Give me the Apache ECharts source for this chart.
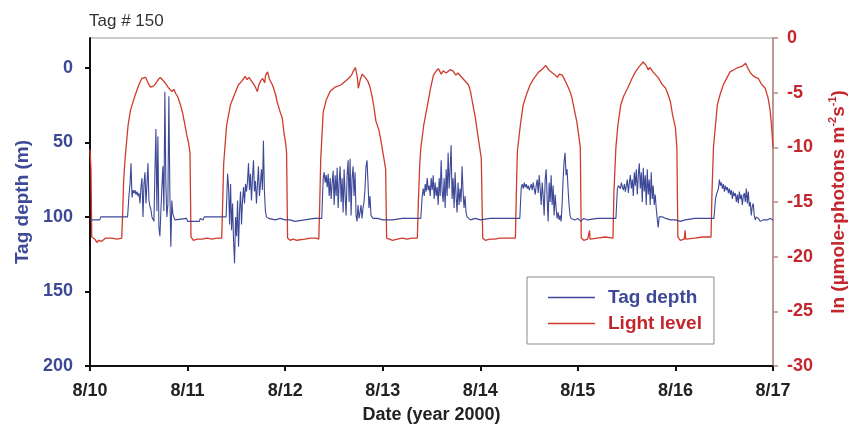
<!DOCTYPE html>
<html>
<head>
<meta charset="utf-8">
<script src="https://cdn.jsdelivr.net/npm/echarts@6/dist/echarts.min.js"></script>
<style>
  html, body { margin: 0; padding: 0; background: #fff; }
  #chart { width: 857px; height: 427px; }
</style>
</head>
<body>
<div id="chart"></div>
<script>
// x = days since 8/10 00:00
var dateLabels = ['8/10', '8/11', '8/12', '8/13', '8/14', '8/15', '8/16', '8/17'];
var depthTicks = [0, 50, 100, 150, 200];

// light level, ln(umole-photons m-2 s-1), [day, value]
var lightLevel = [
  [0, -10.2], [0.01, -12], [0.018, -18.2], [0.05, -18.4], [0.07, -18.7], [0.09, -18.5], [0.12, -18.6], [0.16, -18.3], [0.22, -18.3], [0.28, -18.4], [0.325, -18.3],
  [0.335, -16], [0.345, -13], [0.36, -11], [0.39, -8], [0.415, -6.6], [0.46, -5.3], [0.5, -4.3], [0.53, -3.7], [0.55, -3.8], [0.57, -3.6], [0.6, -4.2], [0.62, -4.5], [0.65, -4.4], [0.67, -4.2], [0.7, -3.8], [0.72, -3.6], [0.74, -3.8], [0.77, -4.1], [0.8, -4.5], [0.82, -4.6], [0.84, -4.9], [0.86, -4.7], [0.88, -5.1], [0.9, -5.4], [0.93, -6.2], [0.95, -6.9], [0.97, -7.8], [0.99, -8.8], [1.01, -9.6], [1.025, -10.5], [1.035, -18.2],
  [1.06, -18.5], [1.1, -18.4], [1.15, -18.4], [1.2, -18.3], [1.25, -18.4], [1.3, -18.3], [1.35, -18.3],
  [1.36, -15], [1.37, -11.5], [1.4, -8], [1.44, -6.1], [1.48, -5.2], [1.52, -4.3], [1.56, -3.9], [1.59, -3.5], [1.61, -3.8], [1.63, -3.6], [1.66, -4.0], [1.69, -4.4], [1.715, -4.9], [1.73, -4.3], [1.75, -3.9], [1.77, -3.7], [1.79, -4.1], [1.8, -3.4], [1.82, -3.1], [1.84, -3.8], [1.87, -4.3], [1.9, -5.1], [1.92, -5.9], [1.95, -6.8], [1.97, -7.3], [1.99, -8.8], [2.005, -9.6], [2.015, -10.5], [2.025, -18.3],
  [2.05, -18.5], [2.08, -18.4], [2.12, -18.5], [2.2, -18.4], [2.26, -18.3], [2.32, -18.3], [2.345, -18.4],
  [2.355, -15], [2.365, -11], [2.39, -6.8], [2.42, -5.7], [2.46, -4.9], [2.51, -4.5], [2.57, -4.3], [2.61, -4.0], [2.65, -3.7], [2.68, -3.4], [2.7, -3.0], [2.72, -2.7], [2.74, -3.6], [2.75, -4.6], [2.77, -3.8], [2.79, -3.3], [2.82, -3.6], [2.85, -4.0], [2.87, -4.5], [2.89, -5.3], [2.91, -6.3], [2.93, -7.6], [2.96, -8.4], [2.98, -9.3], [3.01, -10.9], [3.03, -12], [3.04, -18.3],
  [3.07, -18.4], [3.1, -18.5], [3.15, -18.4], [3.2, -18.3], [3.25, -18.4], [3.3, -18.3], [3.355, -18.3],
  [3.365, -15], [3.38, -11.5], [3.39, -10.1], [3.42, -8], [3.46, -6.1], [3.49, -4.6], [3.52, -3.4], [3.55, -3.0], [3.57, -2.8], [3.6, -3.3], [3.62, -3.0], [3.65, -3.2], [3.69, -2.9], [3.72, -3.0], [3.75, -3.4], [3.77, -3.2], [3.8, -3.5], [3.83, -3.8], [3.85, -3.7], [3.88, -4.3], [3.9, -4.9], [3.92, -5.9], [3.95, -7.3], [3.97, -8.6], [3.99, -9.8], [4.01, -11], [4.025, -18.3],
  [4.05, -18.5], [4.1, -18.4], [4.15, -18.4], [4.2, -18.3], [4.26, -18.3], [4.32, -18.3], [4.36, -18.3],
  [4.37, -14], [4.38, -10.4], [4.41, -8], [4.44, -6.1], [4.48, -5], [4.51, -4.3], [4.55, -3.7], [4.6, -3.1], [4.63, -2.9], [4.67, -2.5], [4.7, -2.9], [4.72, -2.8], [4.74, -3.2], [4.77, -3.4], [4.79, -3.6], [4.81, -3.3], [4.84, -3.4], [4.87, -3.9], [4.89, -4.3], [4.92, -4.9], [4.94, -5.5], [4.96, -6.4], [4.99, -7.7], [5.01, -9], [5.025, -10], [5.035, -18.3],
  [5.06, -18.5], [5.1, -18.4], [5.12, -17.6], [5.125, -18.4], [5.2, -18.3], [5.28, -18.2], [5.36, -18.3],
  [5.37, -14], [5.39, -10], [5.41, -8], [5.44, -6.1], [5.47, -5.3], [5.51, -4.6], [5.55, -3.8], [5.59, -3.1], [5.63, -2.6], [5.65, -2.5], [5.67, -2.2], [5.7, -2.5], [5.72, -2.9], [5.74, -2.7], [5.77, -3.1], [5.8, -3.4], [5.83, -3.7], [5.86, -4.2], [5.9, -4.6], [5.93, -5.3], [5.95, -5.9], [5.97, -7], [6, -8.2], [6.015, -10], [6.025, -18.2],
  [6.05, -18.5], [6.09, -18.4], [6.1, -17.6], [6.105, -18.4], [6.2, -18.3], [6.28, -18.2], [6.365, -18.2],
  [6.375, -14], [6.39, -10], [6.41, -8], [6.43, -6.1], [6.46, -5.1], [6.49, -4.3], [6.53, -3.6], [6.56, -3.1], [6.6, -2.9], [6.64, -2.7], [6.68, -2.6], [6.72, -2.3], [6.75, -2.9], [6.77, -3.2], [6.79, -3.4], [6.82, -3.6], [6.85, -3.7], [6.88, -4.2], [6.92, -4.6], [6.95, -5.5], [6.97, -6.6], [6.985, -8], [7, -10]
];

// tag depth (m) at night, [day, depth]
var depthNight0 = [[0, 102], [0.1, 102], [0.11, 100], [0.2, 100], [0.3, 100], [0.385, 100]];
var depthNight1 = [[0.875, 101], [0.99, 101], [1.0, 103], [1.12, 103], [1.13, 101], [1.16, 102], [1.17, 100], [1.395, 100]];
var depthNight2 = [[1.83, 101], [1.9, 102], [1.95, 101], [2.0, 102], [2.05, 102], [2.1, 103], [2.12, 102], [2.2, 102], [2.3, 101], [2.375, 101]];
var depthNight3 = [[2.9, 101], [2.95, 101], [3.0, 102], [3.02, 103], [3.05, 102], [3.1, 102], [3.2, 101], [3.3, 101], [3.39, 101]];
var depthNight4 = [[3.87, 101], [3.9, 102], [3.95, 101], [4.0, 102], [4.1, 101], [4.2, 101], [4.3, 101], [4.405, 101]];
var depthNight5 = [[4.94, 101], [4.97, 102], [5.0, 101], [5.03, 103], [5.06, 101], [5.1, 102], [5.2, 101], [5.3, 101], [5.39, 101]];
var depthNight6 = [[5.85, 101], [5.87, 100], [5.9, 101], [5.95, 102], [6.0, 102], [6.05, 103], [6.1, 102], [6.2, 101], [6.3, 101], [6.395, 101]];
var depthNight7 = [[6.85, 101], [6.87, 103], [6.9, 102], [6.94, 102], [6.97, 101], [7, 102]];

// tag depth (m) in daytime, logged every sampleStep days from dayStart
var sampleStep = 0.0102;
var dayStart = [0.39, 1.40, 2.38, 3.395, 4.41, 5.395, 6.40];
var depthDay1 = [100, 85, 78, 64, 87, 82, 84, 82, 85, 83, 86, 84, 91, 80, 74, 100, 78, 70, 91, 78, 64, 89, 93, 95, 100, 100, 103, 70, 41, 96, 46, 107, 113, 96, 80, 66, 96, 16, 78, 100, 92, 19, 83, 120, 89, 98, 100, 102];
var depthDay2 = [100, 71, 80, 105, 78, 109, 91, 116, 131, 100, 113, 89, 120, 96, 83, 105, 89, 80, 91, 78, 83, 76, 64, 82, 71, 89, 74, 62, 83, 76, 91, 78, 66, 86, 78, 68, 82, 49, 83, 96, 100, 101];
var depthDay3 = [100, 74, 70, 77, 72, 80, 71, 86, 74, 88, 77, 69, 92, 72, 86, 67, 94, 77, 66, 90, 74, 97, 68, 86, 99, 72, 62, 90, 61, 99, 74, 66, 86, 70, 99, 103, 92, 101, 97, 92, 101, 94, 90, 81, 66, 62, 77, 94, 86, 99, 100];
var depthDay4 = [100, 86, 81, 86, 78, 83, 74, 82, 79, 86, 74, 82, 72, 88, 77, 86, 80, 92, 74, 86, 62, 83, 90, 74, 94, 68, 86, 57, 81, 68, 52, 88, 74, 94, 70, 86, 97, 77, 92, 81, 90, 66, 83, 94, 86, 97, 100];
var depthDay5 = [101, 80, 78, 81, 77, 80, 78, 81, 79, 82, 80, 78, 82, 77, 81, 85, 79, 75, 84, 72, 81, 92, 77, 86, 99, 75, 68, 88, 103, 77, 90, 72, 92, 79, 99, 85, 94, 101, 97, 102, 99, 103, 92, 75, 63, 57, 72, 68, 81, 92, 99, 101];
var depthDay6 = [101, 81, 79, 78, 81, 77, 80, 82, 78, 83, 79, 75, 84, 77, 72, 81, 75, 86, 70, 79, 68, 85, 72, 64, 81, 70, 90, 67, 83, 72, 92, 68, 85, 75, 92, 70, 88, 79, 92, 85, 94, 101, 107, 100, 101];
var depthDay7 = [101, 88, 85, 83, 81, 75, 79, 77, 81, 78, 83, 79, 82, 80, 84, 81, 85, 82, 88, 83, 86, 84, 90, 85, 91, 83, 88, 85, 92, 86, 84, 90, 81, 91, 83, 93, 90, 99, 93, 91, 99, 102, 100, 101];

var BLUE = '#3d4896';
var RED = '#c3272d';
var FONT = 'Liberation Sans, Arial, sans-serif';

function daySamples(start, values) {
    var out = [];
    for (var i = 0; i < values.length; i++) {
        out.push([start + i * sampleStep, values[i]]);
    }
    return out;
}

var nights = [depthNight0, depthNight1, depthNight2, depthNight3, depthNight4, depthNight5, depthNight6];
var days = [depthDay1, depthDay2, depthDay3, depthDay4, depthDay5, depthDay6, depthDay7];
var tagDepth = [];
for (var k = 0; k < days.length; k++) {
    tagDepth = tagDepth.concat(nights[k], daySamples(dayStart[k], days[k]));
}
tagDepth = tagDepth.concat(depthNight7);

var chart = echarts.init(document.getElementById('chart'));

chart.setOption({
    animation: false,
    backgroundColor: '#fff',
    title: {
        text: 'Tag # 150',
        left: 84,
        top: 8,
        textStyle: { fontFamily: FONT, fontSize: 17, fontWeight: 'normal', color: '#333' }
    },
    legend: {
        orient: 'vertical',
        left: 527,
        top: 277,
        padding: [11, 12, 11, 21],
        icon: 'rect',
        itemWidth: 47,
        itemHeight: 1.5,
        itemGap: 7,
        backgroundColor: '#fff',
        borderColor: '#8a8a8a',
        borderWidth: 1,
        borderRadius: 0,
        data: [
            { name: 'Tag depth', textStyle: { color: BLUE } },
            { name: 'Light level', textStyle: { color: RED } }
        ],
        textStyle: { fontFamily: FONT, fontSize: 19, fontWeight: 'bold', padding: [0, 0, 0, 8] }
    },
    grid: {
        left: 90, right: 84, top: 38, bottom: 61,
        outerBoundsMode: 'none',
        containLabel: false,
        show: true,
        borderColor: '#999',
        borderWidth: 1
    },
    xAxis: {
        type: 'value',
        min: 0,
        max: 7,
        interval: 1,
        name: 'Date (year 2000)',
        nameLocation: 'middle',
        nameGap: 40,
        nameTextStyle: { fontFamily: FONT, fontSize: 18, fontWeight: 'bold', color: '#222' },
        axisLine: { onZero: false, lineStyle: { color: '#111', width: 2 } },
        axisTick: { inside: false, length: 5, lineStyle: { color: '#111', width: 2 } },
        axisLabel: {
            margin: 16,
            fontFamily: FONT, fontSize: 18, fontWeight: 'bold', color: '#222',
            formatter: function (v) { return dateLabels[Math.round(v)]; }
        },
        splitLine: { show: false }
    },
    yAxis: [
        {
            type: 'value',
            inverse: true,
            min: -20,
            max: 200,
            position: 'left',
            name: 'Tag depth (m)',
            nameLocation: 'middle',
            nameRotate: 90,
            nameGap: 58,
            nameTextStyle: { fontFamily: FONT, fontSize: 19, fontWeight: 'bold', color: BLUE },
            axisLine: { show: true, onZero: false, lineStyle: { color: '#111', width: 2 } },
            axisTick: { show: true, length: 5, customValues: depthTicks, lineStyle: { color: '#111', width: 2 } },
            axisLabel: {
                margin: 17,
                customValues: depthTicks,
                fontFamily: FONT, fontSize: 18, fontWeight: 'bold', color: BLUE
            },
            splitLine: { show: false }
        },
        {
            type: 'value',
            min: -30,
            max: 0,
            interval: 5,
            position: 'right',
            name: '{a|ln (µmole-photons m}{s|-2}{a|s}{s|-1}{a|)}',
            nameLocation: 'middle',
            nameRotate: 90,
            nameGap: 54,
            nameTextStyle: {
                rich: {
                    a: { fontFamily: FONT, fontSize: 19, fontWeight: 'bold', color: RED, lineHeight: 23 },
                    s: { fontFamily: FONT, fontSize: 11, fontWeight: 'bold', color: RED, verticalAlign: 'top', lineHeight: 23 }
                }
            },
            axisLine: { show: true, onZero: false, lineStyle: { color: '#b58a82', width: 1.5 } },
            axisTick: { show: true, length: 5, lineStyle: { color: '#b58a82', width: 1.5 } },
            axisLabel: {
                margin: 14,
                fontFamily: FONT, fontSize: 18, fontWeight: 'bold', color: RED
            },
            splitLine: { show: false }
        }
    ],
    series: [
        {
            name: 'Light level',
            type: 'line',
            yAxisIndex: 1,
            data: lightLevel,
            symbol: 'none',
            lineStyle: { color: '#cf3b2c', width: 1.3 },
            itemStyle: { color: '#cf3b2c' }
        },
        {
            name: 'Tag depth',
            type: 'line',
            yAxisIndex: 0,
            data: tagDepth,
            symbol: 'none',
            lineStyle: { color: BLUE, width: 1.1 },
            itemStyle: { color: BLUE }
        }
    ]
});
</script>
</body>
</html>
